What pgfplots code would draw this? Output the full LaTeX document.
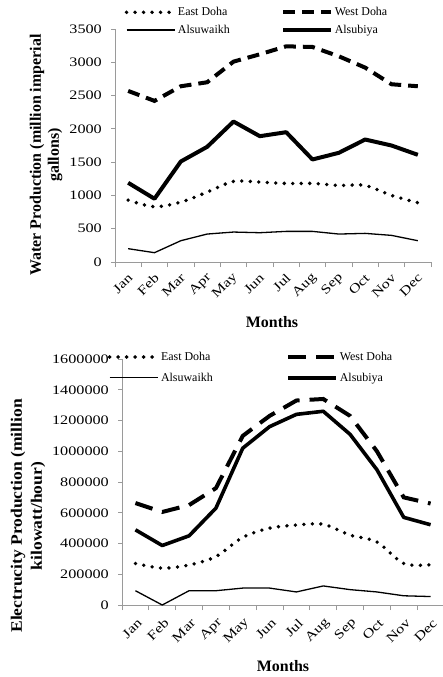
\documentclass[border=0pt]{standalone}
\usepackage{fontspec}
\setmainfont{Liberation Serif}
\newfontfamily\tickfont{Liberation Serif}[FakeStretch=1.25]
\newfontfamily\labfont{Liberation Serif}[FakeStretch=1.1]
\usepackage{pgfplots}
\pgfplotsset{compat=1.18}
\definecolor{axgray}{HTML}{9A9A9A}
\pgfplotsset{
  mystyle/.style={
    scale only axis,
    anchor=south west,
    axis x line*=bottom,
    axis y line*=left,
    axis line style={axgray, line width=0.9bp},
    xmin=0.5, xmax=12.5,
    xtick={1,...,12},
    xticklabels={Jan,Feb,Mar,Apr,May,Jun,Jul,Aug,Sep,Oct,Nov,Dec},
    minor xtick={0.5,1.5,...,12.5},
    major x tick style={draw=none},
    minor x tick style={axgray, line width=0.9bp},
    y tick style={axgray, line width=0.9bp},
    tick align=outside,
    major tick length=4bp,
    minor tick length=5bp,
    ticklabel style={font=\tickfont\fontsize{13}{15}\selectfont},
    xticklabel style={xshift=3bp, yshift=-9bp, rotate=45, anchor=east, inner sep=1bp},
    yticklabel style={inner sep=2bp, xshift=-7bp},
    /pgf/number format/assume math mode=true,
    xlabel={Months},
    xlabel style={font=\bfseries\fontsize{16}{18}\selectfont, anchor=center},
    legend columns=2,
    legend cell align=left,
    legend image code/.code={\draw[##1] (0bp,0bp) -- (48bp,0bp);},
    clip=false,
  },
  east/.style={black, line width=3.8bp, line cap=round, dash pattern=on 0bp off 8.5bp},
  suw/.style={black, line width=1.3bp},
  sub/.style={black, line width=4bp, line join=round},
}
\begin{document}
\begin{tikzpicture}
\useasboundingbox (0bp,0bp) rectangle (443bp,-677bp);
% ---------------- Water production
\begin{axis}[mystyle,
  at={(115bp,-262bp)},
  width=316bp, height=233bp,
  ymin=0, ymax=3500,
  ytick={0,500,1000,1500,2000,2500,3000,3500},
  yticklabels={0,500,1000,1500,2000,2500,3000,3500},
  ylabel={Water Production (million imperial\\gallons)},
  ylabel style={at={(axis description cs:-0.218,0.459)}, anchor=center, align=center,
    font=\bfseries\fontsize{16}{18}\selectfont},
  xlabel style={at={(axis description cs:0.497,-0.258)}},
  legend style={draw=none, fill=none, at={(axis description cs:0.03,1.10)}, anchor=north west,
    font=\fontsize{12}{14}\selectfont, inner sep=0pt,
    nodes={inner sep=1.5bp}, row sep=5bp,
    /tikz/every even column/.append style={column sep=50bp}},
]
\addplot[east, smooth] coordinates {(1,930) (2,830) (3,900) (4,1050) (5,1210) (6,1200) (7,1180) (8,1180) (9,1150) (10,1150) (11,1000) (12,890)};
\addlegendentry{East Doha}
\addplot[black, line width=4bp, dash pattern=on 12bp off 7bp] coordinates {(1,2570) (2,2420) (3,2640) (4,2700) (5,3010) (6,3120) (7,3240) (8,3230) (9,3090) (10,2920) (11,2670) (12,2640)};
\addlegendentry{West Doha}
\addplot[suw] coordinates {(1,200) (2,140) (3,320) (4,420) (5,450) (6,440) (7,460) (8,460) (9,420) (10,430) (11,400) (12,320)};
\addlegendentry{Alsuwaikh}
\addplot[sub] coordinates {(1,1190) (2,950) (3,1510) (4,1730) (5,2110) (6,1890) (7,1950) (8,1540) (9,1640) (10,1840) (11,1750) (12,1610)};
\addlegendentry{Alsubiya}
\end{axis}
% ---------------- Electricity production
\begin{axis}[mystyle,
  at={(122bp,-605bp)},
  width=322bp, height=246bp,
  ymin=0, ymax=1600000,
  ytick={0,200000,400000,600000,800000,1000000,1200000,1400000,1600000},
  yticklabels={0,200000,400000,600000,800000,1000000,1200000,1400000,1600000},
  scaled y ticks=false,
  ylabel={Electrucity Production (million\\kilowatt/hour)},
  ylabel style={at={(axis description cs:-0.292,0.362)}, anchor=center, align=center,
    font=\labfont\bfseries\fontsize{16}{20}\selectfont},
  xlabel style={at={(axis description cs:0.5,-0.248)}},
  xticklabel style={yshift=-3bp},
  legend style={draw=none, fill=none, at={(axis description cs:-0.045,1.035)}, anchor=north west,
    font=\fontsize{12}{14}\selectfont, inner sep=0pt,
    nodes={inner sep=1.5bp}, row sep=8bp,
    /tikz/every even column/.append style={column sep=72bp}},
]
\addplot[east, smooth] coordinates {(1,270000) (2,240000) (3,260000) (4,315000) (5,440000) (6,500000) (7,520000) (8,525000) (9,455000) (10,410000) (11,270000) (12,262000)};
\addlegendentry{East Doha}
\addplot[black, line width=4bp, dash pattern=on 18bp off 10bp] coordinates {(1,663000) (2,605000) (3,650000) (4,760000) (5,1100000) (6,1230000) (7,1330000) (8,1340000) (9,1230000) (10,1000000) (11,700000) (12,660000)};
\addlegendentry{West Doha}
\addplot[suw] coordinates {(1,93000) (2,0) (3,93000) (4,93000) (5,110000) (6,110000) (7,85000) (8,124000) (9,100000) (10,85000) (11,60000) (12,55000)};
\addlegendentry{Alsuwaikh}
\addplot[sub, line width=3.6bp] coordinates {(1,489000) (2,387000) (3,450000) (4,630000) (5,1020000) (6,1160000) (7,1240000) (8,1260000) (9,1110000) (10,880000) (11,570000) (12,522000)};
\addlegendentry{Alsubiya}
\end{axis}
\end{tikzpicture}
\end{document}
